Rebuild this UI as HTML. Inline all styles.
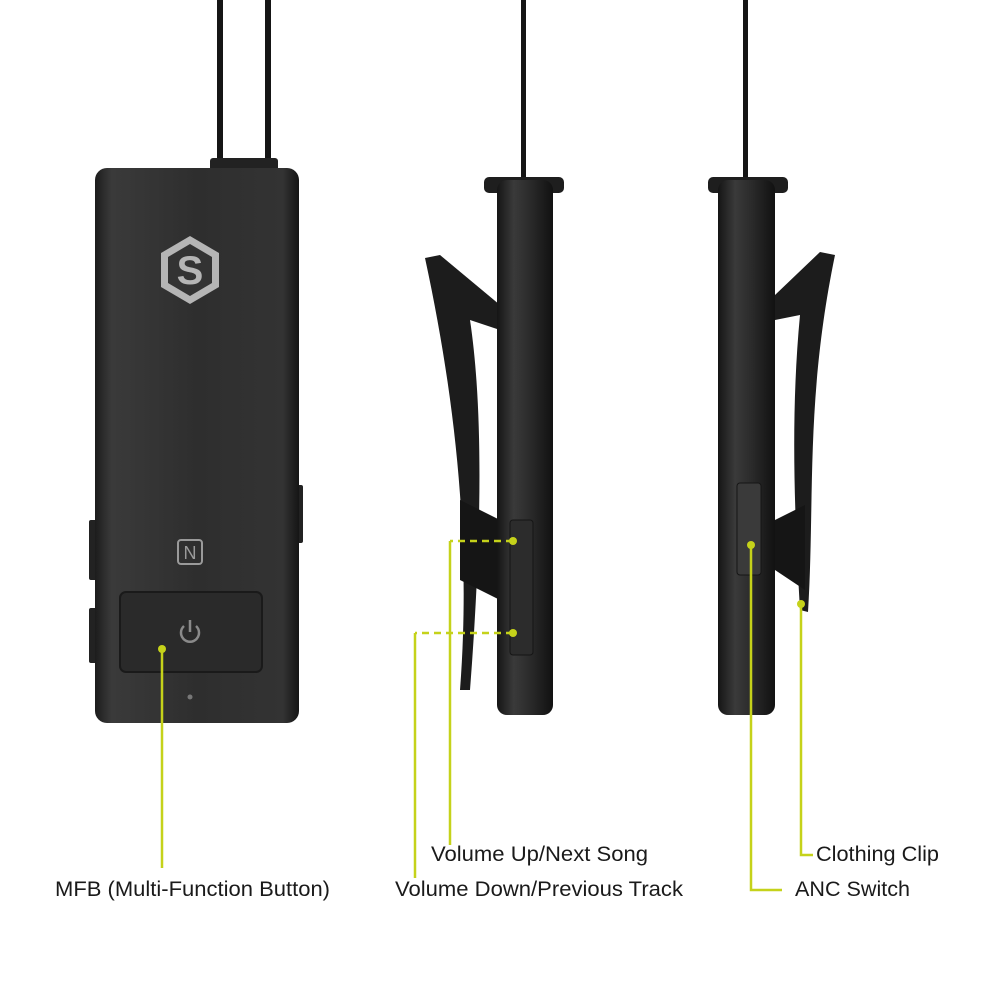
<!DOCTYPE html>
<html><head><meta charset="utf-8"><style>
html,body{margin:0;padding:0;background:#fff;}
svg{display:block}
text{font-family:"Liberation Sans",sans-serif;font-size:21px;fill:#1a1a1a}
</style></head><body>
<svg width="1000" height="1000" viewBox="0 0 1000 1000" xmlns="http://www.w3.org/2000/svg">
<defs>
<linearGradient id="bodyH" x1="0" x2="1" y1="0" y2="0">
<stop offset="0" stop-color="#1c1c1c"/><stop offset="0.08" stop-color="#3a3a3a"/><stop offset="0.5" stop-color="#2e2e2e"/><stop offset="0.92" stop-color="#333"/><stop offset="1" stop-color="#151515"/>
</linearGradient>
<linearGradient id="tube" x1="0" x2="1" y1="0" y2="0">
<stop offset="0" stop-color="#151515"/><stop offset="0.3" stop-color="#3a3a3a"/><stop offset="0.6" stop-color="#2a2a2a"/><stop offset="1" stop-color="#111"/>
</linearGradient>
</defs>
<rect x="217" y="0" width="6" height="165" fill="#151515"/>
<rect x="265" y="0" width="6" height="165" fill="#151515"/>
<rect x="210" y="158" width="68" height="14" rx="3" fill="#222"/>
<rect x="89" y="520" width="9" height="60" rx="2" fill="#222"/>
<rect x="89" y="608" width="9" height="55" rx="2" fill="#222"/>
<rect x="294" y="485" width="9" height="58" rx="2" fill="#222"/>
<rect x="95" y="168" width="204" height="555" rx="12" fill="url(#bodyH)"/>
<polygon points="190,236 219,253 219,287 190,304 161,287 161,253" fill="#b5b5b5"/>
<polygon points="190,244 212,257 212,283 190,296 168,283 168,257" fill="#333"/>
<text x="190" y="284" text-anchor="middle" style="font-size:40px;font-weight:bold;fill:#b5b5b5">S</text>
<rect x="178" y="540" width="24" height="24" rx="3" fill="none" stroke="#9a9a9a" stroke-width="2"/>
<text x="190" y="559" text-anchor="middle" style="font-size:18px;fill:#9a9a9a">N</text>
<rect x="120" y="592" width="142" height="80" rx="6" fill="#2a2a2a" stroke="#1a1a1a" stroke-width="2"/>
<path d="M184,626 A9,9 0 1,0 196,626" fill="none" stroke="#8a8a8a" stroke-width="2.5"/>
<line x1="190" y1="620" x2="190" y2="632" stroke="#8a8a8a" stroke-width="2.5"/>
<circle cx="190" cy="697" r="2.5" fill="#777"/>

<rect x="521" y="0" width="5" height="180" fill="#151515"/>
<path d="M425,258 L440,255 L500,305 L500,330 L470,320 C485,420 480,560 470,690 L460,690 C470,560 460,420 425,258 Z" fill="#1c1c1c"/>
<path d="M460,500 L500,520 L500,600 L460,580 Z" fill="#151515"/>
<rect x="484" y="177" width="80" height="16" rx="5" fill="#1e1e1e"/>
<rect x="497" y="180" width="56" height="535" rx="10" fill="url(#tube)"/>
<rect x="510" y="520" width="23" height="135" rx="3" fill="#2c2c2c" stroke="#151515"/>

<rect x="743" y="0" width="5" height="180" fill="#151515"/>
<rect x="708" y="177" width="80" height="16" rx="5" fill="#1e1e1e"/>
<path d="M835,255 L820,252 L775,295 L775,320 L800,315 C790,420 795,520 800,610 L808,612 C815,500 805,400 835,255 Z" fill="#1c1c1c"/>
<path d="M775,520 L805,505 L805,590 L775,570 Z" fill="#151515"/>
<rect x="718" y="180" width="57" height="535" rx="10" fill="url(#tube)"/>
<rect x="737" y="483" width="24" height="92" rx="3" fill="#3a3a3a" stroke="#151515"/>

<g stroke="#c5d21a" stroke-width="2.5" fill="none">
<line x1="162" y1="649" x2="162" y2="868"/>
<line x1="513" y1="541" x2="450" y2="541" stroke-dasharray="7,5"/>
<line x1="450" y1="541" x2="450" y2="845"/>
<line x1="513" y1="633" x2="415" y2="633" stroke-dasharray="7,5"/>
<line x1="415" y1="633" x2="415" y2="878"/>
<polyline points="751,545 751,890 782,890"/>
<polyline points="801,604 801,855 813,855"/>
</g>
<g fill="#c5d21a">
<circle cx="162" cy="649" r="4"/><circle cx="513" cy="541" r="4"/><circle cx="513" cy="633" r="4"/>
<circle cx="751" cy="545" r="4"/><circle cx="801" cy="604" r="4"/>
</g>
<text x="55" y="896" textLength="275" lengthAdjust="spacingAndGlyphs">MFB (Multi-Function Button)</text>
<text x="431" y="861" textLength="217" lengthAdjust="spacingAndGlyphs">Volume Up/Next Song</text>
<text x="395" y="896" textLength="288" lengthAdjust="spacingAndGlyphs">Volume Down/Previous Track</text>
<text x="816" y="861" textLength="123" lengthAdjust="spacingAndGlyphs">Clothing Clip</text>
<text x="795" y="896" textLength="115" lengthAdjust="spacingAndGlyphs">ANC Switch</text>
</svg>
</body></html>
